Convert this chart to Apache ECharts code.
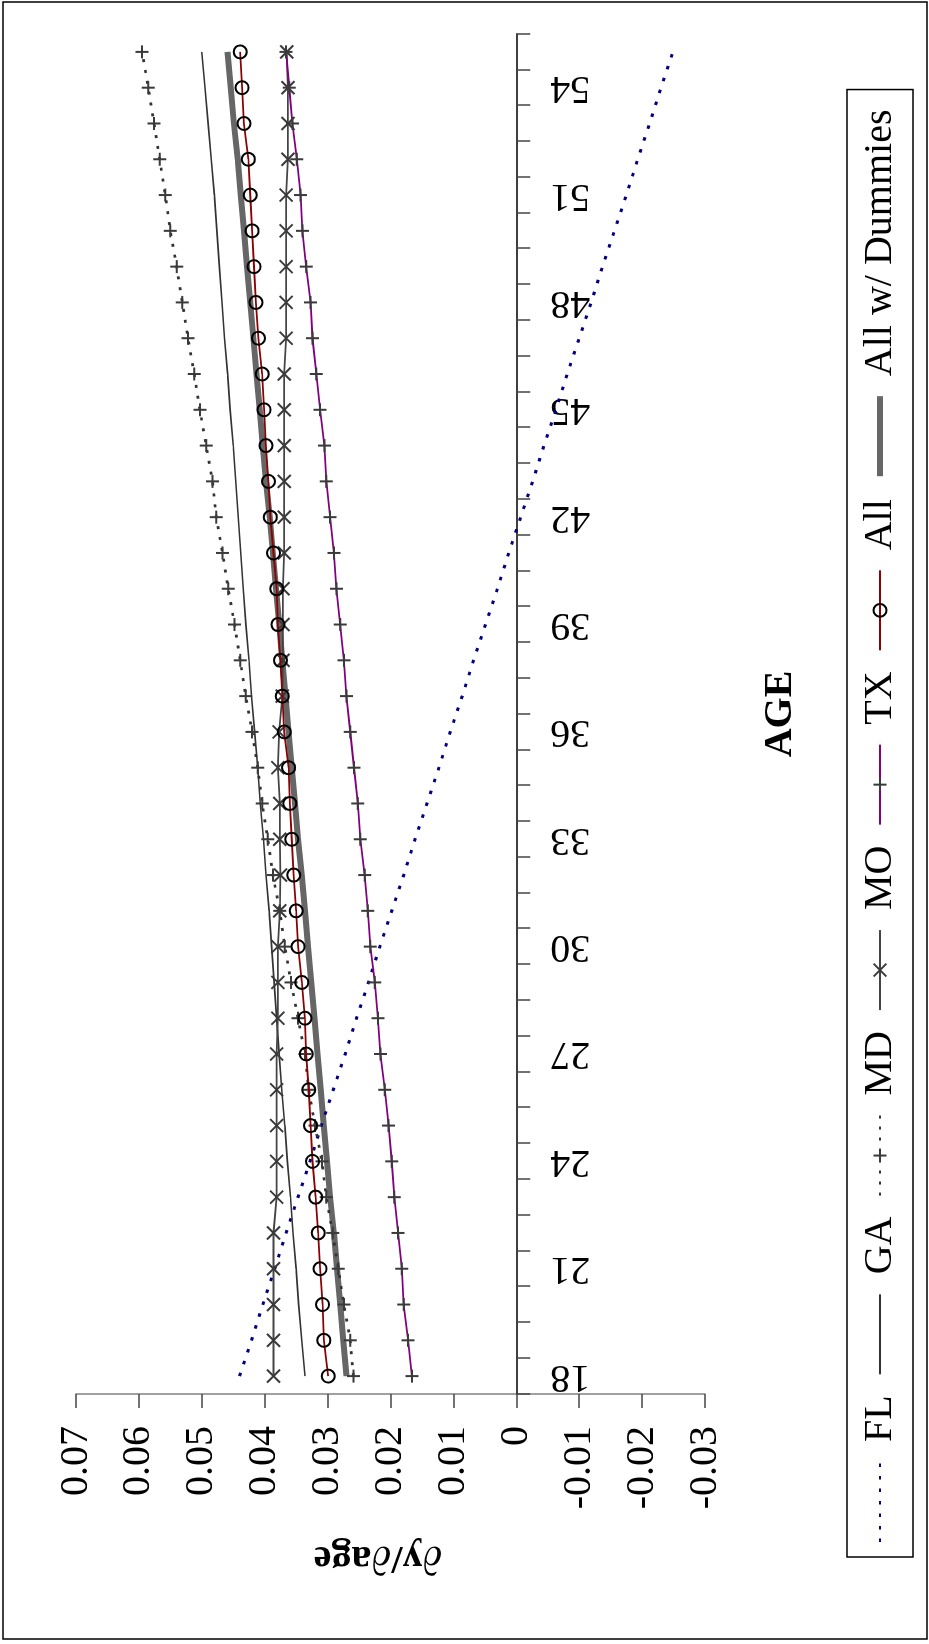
<!DOCTYPE html>
<html><head><meta charset="utf-8">
<script src="https://cdn.jsdelivr.net/npm/echarts/dist/echarts.min.js"></script>
<style>
html,body{margin:0;padding:0;overflow:hidden;background:#fff;width:929px;height:1644px;}
#chart{position:absolute;left:0;top:0;width:1644px;height:929px;transform-origin:0 0;transform:translateY(1644px) rotate(-90deg);background:#fff;}
</style></head><body><div id="chart"></div>
<script>
const ages = ['18','19','20','21','22','23','24','25','26','27','28','29','30','31','32','33','34','35','36','37','38','39','40','41','42','43','44','45','46','47','48','49','50','51','52','53','54','55'];
const fl = [0.0440,0.0421,0.0403,0.0384,0.0366,0.0347,0.0328,0.0310,0.0291,0.0272,0.0254,0.0235,0.0217,0.0198,0.0179,0.0161,0.0142,0.0123,0.0105,0.0086,0.0068,0.0049,0.0030,0.0012,-0.0007,-0.0026,-0.0044,-0.0063,-0.0081,-0.0100,-0.0119,-0.0137,-0.0156,-0.0175,-0.0193,-0.0212,-0.0230,-0.0249];
const ga = [0.0336,0.0341,0.0346,0.0350,0.0355,0.0359,0.0364,0.0368,0.0373,0.0377,0.0381,0.0385,0.0389,0.0393,0.0398,0.0402,0.0407,0.0411,0.0416,0.0421,0.0425,0.0430,0.0434,0.0438,0.0442,0.0446,0.0450,0.0455,0.0459,0.0464,0.0468,0.0472,0.0476,0.0480,0.0485,0.0490,0.0495,0.0500];
const md = [0.0259,0.0264,0.0274,0.0283,0.0292,0.0302,0.0309,0.0320,0.0330,0.0336,0.0347,0.0358,0.0368,0.0376,0.0387,0.0395,0.0404,0.0411,0.0420,0.0430,0.0439,0.0448,0.0458,0.0467,0.0477,0.0483,0.0493,0.0503,0.0512,0.0522,0.0531,0.0540,0.0550,0.0558,0.0567,0.0576,0.0585,0.0595];
const mo = [0.0386,0.0386,0.0386,0.0386,0.0386,0.0381,0.0381,0.0381,0.0381,0.0381,0.0379,0.0379,0.0379,0.0376,0.0375,0.0376,0.0376,0.0379,0.0377,0.0372,0.0371,0.0371,0.0371,0.0369,0.0369,0.0369,0.0369,0.0369,0.0369,0.0366,0.0366,0.0366,0.0366,0.0366,0.0363,0.0363,0.0363,0.0365];
const tx = [0.0166,0.0172,0.0179,0.0182,0.0188,0.0194,0.0198,0.0203,0.0209,0.0216,0.0220,0.0225,0.0232,0.0236,0.0241,0.0248,0.0252,0.0258,0.0264,0.0270,0.0274,0.0280,0.0286,0.0290,0.0296,0.0302,0.0305,0.0312,0.0318,0.0324,0.0327,0.0334,0.0340,0.0343,0.0349,0.0356,0.0361,0.0366];
const all = [0.0299,0.0306,0.0308,0.0312,0.0315,0.0319,0.0324,0.0327,0.0330,0.0334,0.0336,0.0341,0.0347,0.0350,0.0354,0.0357,0.0360,0.0362,0.0369,0.0372,0.0375,0.0379,0.0381,0.0386,0.0391,0.0394,0.0398,0.0401,0.0404,0.0410,0.0414,0.0417,0.0420,0.0423,0.0426,0.0433,0.0436,0.0439];
const allDummies = [0.0270,0.0275,0.0280,0.0285,0.0290,0.0296,0.0301,0.0306,0.0311,0.0316,0.0321,0.0326,0.0331,0.0336,0.0341,0.0347,0.0352,0.0357,0.0362,0.0367,0.0372,0.0377,0.0382,0.0387,0.0392,0.0398,0.0403,0.0408,0.0413,0.0418,0.0423,0.0428,0.0433,0.0438,0.0443,0.0449,0.0454,0.0459];
const seriesNames = ['FL','GA','MD','MO','TX','All','All w/ Dummies'];
const xAxisTitle = 'AGE';
const yAxisTitle = '\u2202y/\u2202age';
const yMin = -0.03, yMax = 0.07;

const FONT = "'Liberation Serif', 'Times New Roman', serif";
const PLUS = 'path://M0 5 L10 5 M5 0 L5 10';
const CROSS = 'path://M0 0 L10 10 M10 0 L0 10';
const HIDDEN_ITEM = {color: 'rgba(0,0,0,0)', borderColor: 'rgba(0,0,0,0)', borderWidth: 0};

const GRID = {left: 250, right: 34, top: 76, bottom: 224};
const plotH = 929 - GRID.top - GRID.bottom;
// category axis sits on the value-axis zero line (Excel "crosses at 0")
const zeroFromBottom = plotH * (0 - yMin) / (yMax - yMin);

const chart = echarts.init(document.getElementById('chart'), null, {renderer: 'canvas'});
chart.setOption({
  animation: false,
  backgroundColor: '#fff',
  grid: Object.assign({containLabel: false, outerBoundsMode: 'none'}, GRID),
  graphic: [
    {type: 'rect', silent: true, shape: {x: 5, y: 3, width: 1637, height: 924}, style: {fill: 'none', stroke: '#000', lineWidth: 1.5}},
    {type: 'text', silent: true, x: 930, y: 781, style: {text: xAxisTitle, align: 'center', verticalAlign: 'middle', fontSize: 40, fontWeight: 'bold', fontFamily: FONT, fill: '#000'}},
    {type: 'text', silent: true, x: 87, y: 378, rotation: Math.PI / 2, style: {text: yAxisTitle, align: 'center', verticalAlign: 'middle', fontSize: 40, fontWeight: 'bold', fontFamily: FONT, fill: '#000'}}
  ],
  legend: {
    left: 87, top: 847, orient: 'horizontal',
    padding: [13, 20, 13, 14],
    borderColor: '#000', borderWidth: 1.5, backgroundColor: '#fff',
    itemWidth: 80, itemHeight: 16, itemGap: 20,
    textStyle: {fontSize: 40, fontFamily: FONT, color: '#000', padding: [0, 0, 0, 15]},
    data: seriesNames.map(n => n === 'All w/ Dummies' ? {name: n, lineStyle: {width: 6}} : {name: n})
  },
  xAxis: {
    type: 'category', data: ages, boundaryGap: true, position: 'bottom',
    offset: -zeroFromBottom,
    axisLine: {show: true, onZero: false, lineStyle: {color: '#000', width: 1.5}},
    axisTick: {show: true, interval: 0, length: 14, lineStyle: {color: '#444', width: 1.5}},
    axisLabel: {interval: 2, rotate: 90, margin: 34, fontSize: 40, fontFamily: FONT, color: '#000'},
    splitLine: {show: false}
  },
  yAxis: {
    type: 'value', min: yMin, max: yMax, interval: 0.01,
    axisLine: {show: true, lineStyle: {color: '#808080', width: 1.5}},
    axisTick: {show: true, length: 14, lineStyle: {color: '#444', width: 1.5}},
    axisLabel: {margin: 32, fontSize: 40, fontFamily: FONT, color: '#000',
      formatter: v => String(Number(v.toFixed(2)))},
    splitLine: {show: false}
  },
  series: [
    {name: 'FL', type: 'line', data: fl, symbol: 'circle', showSymbol: false, z: 3,
     lineStyle: {color: '#000080', width: 3, type: [3.5, 9]}, itemStyle: HIDDEN_ITEM},
    {name: 'GA', type: 'line', data: ga, symbol: 'circle', showSymbol: false, z: 3,
     lineStyle: {color: '#333', width: 1.6}, itemStyle: HIDDEN_ITEM},
    {name: 'MD', type: 'line', data: md, symbol: PLUS, symbolSize: 13, showAllSymbol: true, z: 3,
     lineStyle: {color: '#333', width: 2.7, type: [3, 8]},
     itemStyle: {color: '#3a3a3a', borderColor: '#3a3a3a', borderWidth: 2}},
    {name: 'MO', type: 'line', data: mo, symbol: CROSS, symbolSize: 13, showAllSymbol: true, z: 3,
     lineStyle: {color: '#444', width: 1.8},
     itemStyle: {color: '#3a3a3a', borderColor: '#3a3a3a', borderWidth: 2}},
    {name: 'TX', type: 'line', data: tx, symbol: PLUS, symbolSize: 13, showAllSymbol: true, z: 3,
     lineStyle: {color: '#800080', width: 1.8},
     itemStyle: {color: '#3a3a3a', borderColor: '#3a3a3a', borderWidth: 2}},
    {name: 'All', type: 'line', data: all, symbol: 'circle', symbolSize: 13, showAllSymbol: true, z: 4,
     lineStyle: {color: '#8b0000', width: 1.8},
     itemStyle: {color: 'rgba(0,0,0,0)', borderColor: '#000', borderWidth: 2}},
    {name: 'All w/ Dummies', type: 'line', data: allDummies, symbol: 'circle', showSymbol: false, z: 2,
     lineStyle: {color: '#666', width: 6}, itemStyle: HIDDEN_ITEM}
  ]
});
</script></body></html>
